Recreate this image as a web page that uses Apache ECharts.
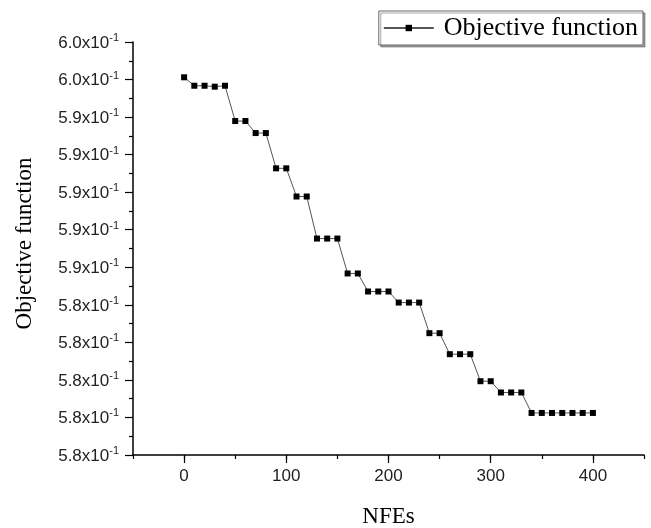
<!DOCTYPE html>
<html>
<head>
<meta charset="utf-8">
<script src="https://cdn.jsdelivr.net/npm/echarts@6/dist/echarts.min.js"></script>
<style>html,body{margin:0;padding:0;background:#fff}#c{width:651px;height:528px}</style>
</head>
<body>
<div id="c"></div>
<script>
const nfes = [0,10,20,30,40,50,60,70,80,90,100,110,120,130,140,150,160,170,180,190,200,210,220,230,240,250,260,270,280,290,300,310,320,330,340,350,360,370,380,390,400];
const objective = [0.59612,0.59567,0.59567,0.59562,0.59567,0.59379,0.59379,0.59315,0.59315,0.59127,0.59127,0.58977,0.58977,0.58753,0.58753,0.58753,0.58567,0.58567,0.58471,0.58471,0.58471,0.58412,0.58412,0.58412,0.58249,0.58249,0.58137,0.58137,0.58137,0.57993,0.57993,0.57933,0.57933,0.57933,0.57824,0.57824,0.57824,0.57824,0.57824,0.57824,0.57824];
const xTickValues = [0,100,200,300,400];
const yTickLabels = ['5.8','5.8','5.8','5.8','5.8','5.9','5.9','5.9','5.9','5.9','6.0','6.0'];
const seriesName = 'Objective function';

const chart = echarts.init(document.getElementById('c'));
chart.setOption({
  animation: false,
  backgroundColor: '#fff',
  grid: {left: 133, right: 7, top: 42, bottom: 73, containLabel: false, outerBoundsMode: 'none'},
  legend: {
    show: true,
    right: 8, top: 11,
    data: [seriesName],
    backgroundColor: '#fff',
    borderColor: '#666', borderWidth: 1,
    shadowColor: 'rgba(0,0,0,0.35)', shadowBlur: 0, shadowOffsetX: 2, shadowOffsetY: 2,
    padding: [4, 5, 4, 4],
    itemWidth: 50, itemHeight: 8,
    textStyle: {fontFamily: 'Liberation Serif', fontSize: 26, color: '#000', padding: [0,0,0,5]}
  },
  xAxis: [{
    type: 'value', min: -50, max: 450, interval: 50,
    name: 'NFEs', nameLocation: 'middle', nameGap: 50,
    nameTextStyle: {fontFamily: 'Liberation Serif', fontSize: 23, color: '#000'},
    axisLine: {show: true, onZero: false, lineStyle: {color: '#000', width: 1.5}},
    axisTick: {show: true, inside: false, length: 4, lineStyle: {color: '#000', width: 1.2}},
    axisLabel: {show: true, customValues: xTickValues, margin: 13, fontFamily: 'Liberation Sans', fontSize: 17, color: '#222'},
    splitLine: {show: false}
  }, {
    type: 'value', min: -50, max: 450, position: 'bottom',
    axisLine: {show: false}, splitLine: {show: false},
    axisLabel: {show: false},
    axisTick: {show: true, customValues: xTickValues, length: 8, lineStyle: {color: '#000', width: 1.2}}
  }],
  yAxis: {
    type: 'value', min: 0.576, max: 0.598, interval: 0.002,
    name: 'Objective function', nameLocation: 'middle', nameGap: 97,
    nameTextStyle: {fontFamily: 'Liberation Serif', fontSize: 23, color: '#000', padding: [0, 0, 0, 10]},
    axisLine: {show: true, onZero: false, lineStyle: {color: '#000', width: 1.5}},
    axisTick: {show: true, inside: false, length: 8, lineStyle: {color: '#000', width: 1.2}},
    minorTick: {show: true, splitNumber: 2, length: 4, lineStyle: {color: '#000', width: 1.2}},
    axisLabel: {
      margin: 14,
      formatter: function (v, i) { return '{b|' + yTickLabels[i] + 'x10}{s|-1}'; },
      rich: {
        b: {fontFamily: 'Liberation Sans', fontSize: 17, color: '#222', lineHeight: 19, verticalAlign: 'bottom'},
        s: {fontFamily: 'Liberation Sans', fontSize: 11, color: '#222', lineHeight: 19, verticalAlign: 'top', padding: [0,0,6,0]}
      }
    },
    splitLine: {show: false}
  },
  series: [{
    name: seriesName,
    type: 'line',
    xAxisIndex: 0,
    data: nfes.map((x, i) => [x, objective[i]]),
    symbol: 'rect', symbolSize: 6,
    itemStyle: {color: '#000'},
    lineStyle: {color: '#555', width: 1}
  }]
});
</script>
</body>
</html>
